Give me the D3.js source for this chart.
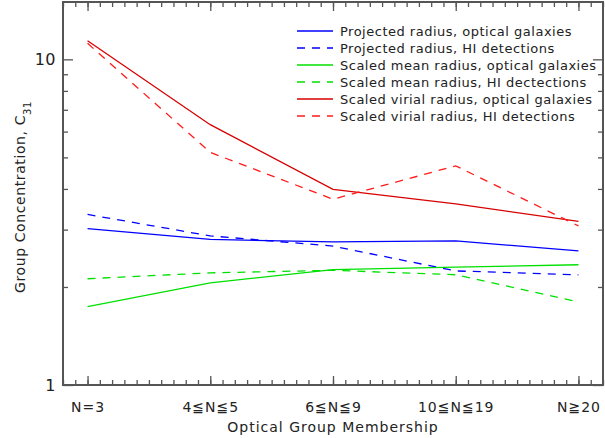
<!DOCTYPE html>
<html>
<head>
<meta charset="utf-8">
<script src="https://cdn.jsdelivr.net/npm/d3@7"></script>
<style>
  body { margin: 0; background: #fff; }
  text { font-family: "DejaVu Sans", sans-serif; fill: #222; }
</style>
</head>
<body>
<div id="chart-container"></div>
<script>
// ----- DATA -----
let categories = ["N=3", "4\u2266N\u22665", "6\u2266N\u22669", "10\u2266N\u226619", "N\u226720"];

let projOptical  = [3.02, 2.80, 2.75, 2.77, 2.58];
let projHI       = [3.34, 2.87, 2.67, 2.24, 2.18];
let meanOptical  = [1.74, 2.06, 2.26, 2.30, 2.34];
let meanHI       = [2.12, 2.21, 2.25, 2.18, 1.80];
let virialOptical = [11.4, 6.3, 3.99, 3.6, 3.18];
let virialHI     = [11.2, 5.18, 3.72, 4.71, 3.08];

let seriesNames = [
    "Projected radius, optical galaxies",
    "Projected radius, HI detections",
    "Scaled mean radius, optical galaxies",
    "Scaled mean radius, HI dectections",
    "Scaled virial radius, optical galaxies",
    "Scaled virial radius, HI detections"
];

let yMajor = [1, 10];
let yMinor = [2, 3, 4, 5, 6, 7, 8, 9];

let series = [
    { name: seriesNames[0], values: projOptical,   color: "#0000ff", dash: null },
    { name: seriesNames[1], values: projHI,        color: "#0000ff", dash: "8,7" },
    { name: seriesNames[2], values: meanOptical,   color: "#00e000", dash: null },
    { name: seriesNames[3], values: meanHI,        color: "#00e000", dash: "8,7" },
    { name: seriesNames[4], values: virialOptical, color: "#d80000", dash: null },
    { name: seriesNames[5], values: virialHI,      color: "#ff1a1a", dash: "8,7" }
];

let margin = { top: 2, bottom: 53, left: 63, right: 2 };
let width = 605 - margin.left - margin.right,
    height = 438 - margin.top - margin.bottom;

let svg = d3.select("#chart-container")
            .append("svg")
            .attr("width", width + margin.left + margin.right)
            .attr("height", height + margin.top + margin.bottom)
            .append("g")
            .attr("transform", `translate(${margin.left},${margin.top})`);

// ----- SCALES -----
let xScale = d3.scaleLinear()
    .domain([-0.2, categories.length - 1 + 0.2])
    .range([0, width]);

let yScale = d3.scaleLog()
    .domain([1, 15])
    .range([height, 0]);

let axisColor = "#555";
let xMinor = d3.range(-2, (categories.length - 1) * 10 + 3).map(d => d / 10);

function styleAxis(g, size, spacing) {
    g.select(".domain").remove();
    g.selectAll("line").attr("stroke", axisColor).attr("stroke-width", 1.3);
    g.selectAll("text")
        .style("font-size", (size || 14) + "px")
        .style("letter-spacing", (spacing || 0) + "px")
        .style("fill", "#222")
        .style("font-family", "DejaVu Sans, sans-serif");
}

// ----- AXES -----
// bottom
svg.append("g")
    .attr("transform", `translate(0, ${height})`)
    .call(d3.axisBottom(xScale).tickValues(xMinor).tickSize(-5).tickFormat(""))
    .call(styleAxis);
svg.append("g")
    .attr("transform", `translate(0, ${height})`)
    .call(d3.axisBottom(xScale).tickValues(d3.range(categories.length))
        .tickSize(-9).tickPadding(17).tickFormat(i => categories[i]))
    .call(styleAxis, 14, 1);
// top
svg.append("g")
    .call(d3.axisTop(xScale).tickValues(xMinor).tickSize(-5).tickFormat(""))
    .call(styleAxis);
svg.append("g")
    .call(d3.axisTop(xScale).tickValues(d3.range(categories.length)).tickSize(-9).tickFormat(""))
    .call(styleAxis);
// left
svg.append("g")
    .call(d3.axisLeft(yScale).tickValues(yMinor).tickSize(-5).tickFormat(""))
    .call(styleAxis);
svg.append("g")
    .call(d3.axisLeft(yScale).tickValues(yMajor).tickSize(-10).tickPadding(7).tickFormat(d3.format("d")))
    .call(styleAxis, 16, 0.5);
// right
svg.append("g")
    .attr("transform", `translate(${width}, 0)`)
    .call(d3.axisRight(yScale).tickValues(yMinor).tickSize(-5).tickFormat(""))
    .call(styleAxis);
svg.append("g")
    .attr("transform", `translate(${width}, 0)`)
    .call(d3.axisRight(yScale).tickValues(yMajor).tickSize(-10).tickFormat(""))
    .call(styleAxis);

// frame
svg.append("rect")
    .attr("width", width)
    .attr("height", height)
    .attr("fill", "none")
    .attr("stroke", axisColor)
    .attr("stroke-width", 2);

// ----- AXIS LABELS -----
svg.append("text")
    .attr("x", xScale(2))
    .attr("y", height + 47)
    .style("text-anchor", "middle")
    .style("font-size", "14px")
    .style("letter-spacing", "1px")
    .text("Optical Group Membership");

let yLabel = svg.append("text")
    .attr("transform", `translate(${-38}, 195) rotate(-90)`)
    .style("text-anchor", "middle")
    .style("font-size", "14px")
    .style("letter-spacing", "0.6px");
yLabel.append("tspan").text("Group Concentration, C");
yLabel.append("tspan")
    .attr("baseline-shift", "sub")
    .style("font-size", "10px")
    .text("31");

// ----- LINES -----
let line = d3.line()
    .x((d, i) => xScale(i))
    .y(d => yScale(d));

svg.selectAll(".series")
    .data(series)
    .enter()
    .append("path")
    .attr("class", "series")
    .attr("d", d => line(d.values))
    .attr("fill", "none")
    .attr("stroke", d => d.color)
    .attr("stroke-width", 1.3)
    .attr("stroke-dasharray", d => d.dash);

// ----- LEGEND -----
let legend = svg.append("g")
    .attr("transform", "translate(234, 29)");

let rows = legend.selectAll("g")
    .data(series)
    .enter()
    .append("g")
    .attr("transform", (d, i) => `translate(0, ${i * 17})`);

rows.append("line")
    .attr("x1", 0)
    .attr("x2", 36)
    .attr("stroke", d => d.color)
    .attr("stroke-width", 1.3)
    .attr("stroke-dasharray", d => d.dash);

rows.append("text")
    .attr("x", 43)
    .attr("dy", "0.35em")
    .style("font-size", "13px")
    .style("letter-spacing", "0.5px")
    .text(d => d.name);
</script>
</body>
</html>
